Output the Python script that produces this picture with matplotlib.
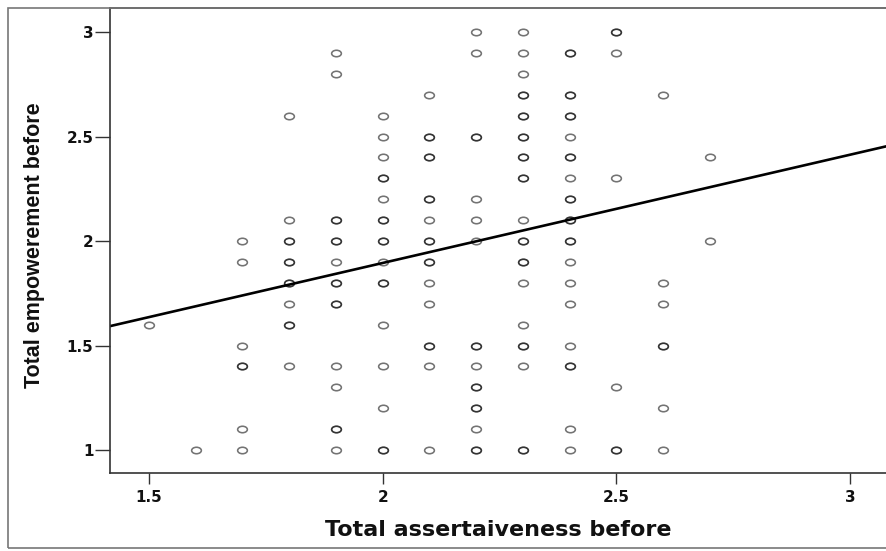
import numpy as np
import matplotlib
matplotlib.use('Agg')
import matplotlib.pyplot as plt
from matplotlib.path import Path
from matplotlib.patches import Rectangle

# Points (n = how many overlapping cases sit on the spot)
x_points = [1.5,
            1.6,
            1.7, 1.7, 1.7, 1.7, 1.7, 1.7,
            1.8, 1.8, 1.8, 1.8, 1.8, 1.8, 1.8, 1.8,
            1.9, 1.9, 1.9, 1.9, 1.9, 1.9, 1.9, 1.9, 1.9, 1.9, 1.9,
            2.0, 2.0, 2.0, 2.0, 2.0, 2.0, 2.0, 2.0, 2.0, 2.0, 2.0, 2.0, 2.0,
            2.1, 2.1, 2.1, 2.1, 2.1, 2.1, 2.1, 2.1, 2.1, 2.1, 2.1, 2.1,
            2.2, 2.2, 2.2, 2.2, 2.2, 2.2, 2.2, 2.2, 2.2, 2.2, 2.2, 2.2,
            2.3, 2.3, 2.3, 2.3, 2.3, 2.3, 2.3, 2.3, 2.3, 2.3, 2.3, 2.3, 2.3, 2.3, 2.3, 2.3,
            2.4, 2.4, 2.4, 2.4, 2.4, 2.4, 2.4, 2.4, 2.4, 2.4, 2.4, 2.4, 2.4, 2.4, 2.4, 2.4,
            2.5, 2.5, 2.5, 2.5, 2.5,
            2.6, 2.6, 2.6, 2.6, 2.6, 2.6,
            2.7, 2.7]
y_points = [1.6,
            1.0,
            2.0, 1.9, 1.5, 1.4, 1.1, 1.0,
            2.6, 2.1, 2.0, 1.9, 1.8, 1.7, 1.6, 1.4,
            2.9, 2.8, 2.1, 2.0, 1.9, 1.8, 1.7, 1.4, 1.3, 1.1, 1.0,
            2.6, 2.5, 2.4, 2.3, 2.2, 2.1, 2.0, 1.9, 1.8, 1.6, 1.4, 1.2, 1.0,
            2.7, 2.5, 2.4, 2.2, 2.1, 2.0, 1.9, 1.8, 1.7, 1.5, 1.4, 1.0,
            3.0, 2.9, 2.5, 2.2, 2.1, 2.0, 1.5, 1.4, 1.3, 1.2, 1.1, 1.0,
            3.0, 2.9, 2.8, 2.7, 2.6, 2.5, 2.4, 2.3, 2.1, 2.0, 1.9, 1.8, 1.6, 1.5, 1.4, 1.0,
            2.9, 2.7, 2.6, 2.5, 2.4, 2.3, 2.2, 2.1, 2.0, 1.9, 1.8, 1.7, 1.5, 1.4, 1.1, 1.0,
            3.0, 2.9, 2.3, 1.3, 1.0,
            2.7, 1.8, 1.7, 1.5, 1.2, 1.0,
            2.4, 2.0]
n_points = [1,
            1,
            1, 1, 1, 2, 1, 1,
            1, 1, 2, 2, 2, 1, 2, 1,
            1, 1, 2, 2, 1, 2, 2, 1, 1, 2, 1,
            1, 1, 1, 2, 1, 2, 2, 1, 2, 1, 1, 1, 2,
            1, 2, 2, 2, 1, 2, 2, 1, 1, 2, 1, 1,
            1, 1, 2, 1, 1, 1, 2, 1, 2, 2, 1, 2,
            1, 1, 1, 2, 2, 2, 2, 2, 1, 2, 2, 1, 1, 2, 1, 2,
            2, 2, 2, 1, 2, 1, 2, 2, 2, 1, 1, 1, 1, 2, 1, 1,
            2, 1, 1, 1, 2,
            1, 1, 1, 2, 1, 1,
            1, 1]

# fit line as printed on the chart
fit_intercept = 0.859
fit_slope = 0.518

x_ticks = [1.5, 2, 2.5, 3]
x_ticklabels = ['1.5', '2', '2.5', '3']
y_ticks = [1, 1.5, 2, 2.5, 3]
y_ticklabels = ['1', '1.5', '2', '2.5', '3']

# expand overlaps so they darken like the original
xs = np.repeat(x_points, n_points)
ys = np.repeat(y_points, n_points)

# squashed circle marker (the picture is stretched sideways)
circ = Path.unit_circle()
ellipse = Path(circ.vertices * np.array([1.5, 1.0]), circ.codes)

W, H = 887, 551
fig = plt.figure(figsize=(W / 100, H / 100), dpi=100)
ax = fig.add_axes([110 / W, (H - 473) / H, (W - 110 + 4) / W, (473 - 8) / H])

ax.plot(xs, ys, linestyle='none', marker=ellipse, markersize=7,
        markerfacecolor='none', markeredgecolor=(0, 0, 0, 0.55), markeredgewidth=1.15)

# axes run a bit past the right edge of the picture, like the cropped original
ax.set_xlim(1.4165, 3.079 + 4 / 467)
ax.set_ylim(0.89, 3.115)

lx = np.array(ax.get_xlim())
ax.plot(lx, fit_intercept + fit_slope * lx, color='black', linewidth=1.9)

ax.set_xticks(x_ticks)
ax.set_xticklabels(x_ticklabels)
ax.set_yticks(y_ticks)
ax.set_yticklabels(y_ticklabels)
ax.tick_params(axis='x', length=8, width=1, color='#333333', pad=4.5,
               labelsize=11, labelcolor='#111111')
ax.tick_params(axis='y', length=10.5, width=1, color='#333333', pad=1.5,
               labelsize=11, labelcolor='#111111')
for lab in ax.get_xticklabels() + ax.get_yticklabels():
    lab.set_fontweight('bold')
    lab.set_family('DejaVu Sans')

for side in ['left', 'bottom', 'top']:
    ax.spines[side].set_color('#333333')
    ax.spines[side].set_linewidth(1.2)
ax.spines['right'].set_visible(False)

ax.set_xlabel('Total assertaiveness before', fontsize=16, fontweight='bold',
              family='DejaVu Sans', color='#111111')
ax.xaxis.set_label_coords((498 - 110) / (W - 110 + 4), -0.1226)
ax.xaxis.label.set_va('center')
ax.set_ylabel('Total empowerement before', fontsize=15.5, fontweight='bold',
              family='Liberation Sans', color='#111111')
ax.yaxis.set_label_coords(-75 / (W - 110 + 4), 0.49)
ax.yaxis.label.set_va('center')

# outer chart frame
fig.add_artist(Rectangle((8 / W, (H - 548) / H), 1.0, (548 - 8) / H,
                         transform=fig.transFigure, fill=False,
                         edgecolor='#777777', linewidth=1.2))

fig.savefig('out.png', dpi=100)
